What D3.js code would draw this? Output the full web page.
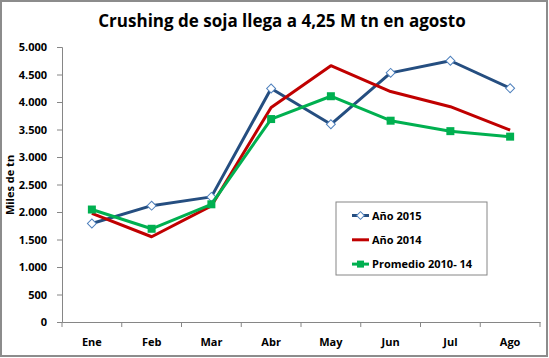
<!DOCTYPE html>
<html><head><meta charset="utf-8">
<script src="https://cdn.jsdelivr.net/npm/d3@7"></script>
<style>body{margin:0;background:#fff}svg{display:block}text{font-family:"Open Sans","Liberation Sans",sans-serif;font-weight:bold}</style>
</head><body><svg id="c" width="549" height="358"></svg>
<script>
const categories = ["Ene","Feb","Mar","Abr","May","Jun","Jul","Ago"];
const anio2015 = [1790, 2115, 2275, 4245, 3595, 4530, 4750, 4250];
const anio2014 = [1975, 1550, 2110, 3900, 4660, 4190, 3915, 3490];
const promedio = [2045, 1695, 2140, 3690, 4105, 3660, 3470, 3370];
const yTicks = [0,500,1000,1500,2000,2500,3000,3500,4000,4500,5000];
const series = [
  {name:"Año 2015", values:anio2015, color:"#254E80", marker:"diamond"},
  {name:"Año 2014", values:anio2014, color:"#C00000", marker:"none"},
  {name:"Promedio 2010- 14", values:promedio, color:"#00B050", marker:"square"}
];
const svg = d3.select("#c");
svg.append("rect").attr("x",1).attr("y",1).attr("width",546).attr("height",355).attr("fill","#fff").attr("stroke","#8c8c8c").attr("stroke-width",2);
const L=62,R=540,T=47,B=322;
const x = d3.scaleBand().domain(categories).range([L,R]);
const y = d3.scaleLinear().domain([0,5000]).range([B,T]);
const fmt = d=>d3.format(",")(d).replace(/,/g,".");
const ya = svg.append("g").attr("transform",`translate(${L},0)`).call(d3.axisLeft(y).tickValues(yTicks).tickFormat(fmt).tickSize(5).tickPadding(10));
const xa = svg.append("g").attr("transform",`translate(0,${B})`).call(d3.axisBottom(x).tickSize(0).tickPadding(16));
[ya,xa].forEach(g=>{g.select(".domain").attr("stroke","#868686");g.selectAll(".tick line").attr("stroke","#868686");g.selectAll("text").attr("font-size",11).attr("fill","#000").attr("font-family","'Open Sans',sans-serif").attr("font-weight","bold");});
svg.append("g").selectAll("line").data(d3.range(categories.length+1)).join("line")
  .attr("x1",i=>L+i*x.step()).attr("x2",i=>L+i*x.step()).attr("y1",B).attr("y2",B+5).attr("stroke","#868686");
svg.append("text").attr("x",282).attr("y",27).attr("text-anchor","middle").attr("font-size",17).text("Crushing de soja llega a 4,25 M tn en agosto");
svg.append("text").attr("transform","translate(14,185) rotate(-90)").attr("text-anchor","middle").attr("font-size",11).text("Miles de tn");
const line = d3.line().x((d,i)=>x(categories[i])+x.bandwidth()/2).y(d=>y(d));
series.forEach(s=>{
  svg.append("path").attr("d",line(s.values)).attr("fill","none").attr("stroke",s.color).attr("stroke-width",3).attr("stroke-linejoin","round");
  const g = svg.append("g");
  if(s.marker==="diamond"){
    g.selectAll("path").data(s.values).join("path").attr("d",d3.symbol(d3.symbolSquare,40))
      .attr("transform",(d,i)=>`translate(${x(categories[i])+x.bandwidth()/2},${y(d)}) rotate(45)`).attr("fill","#fff").attr("stroke","#4F81BD").attr("stroke-width",1);
  } else if(s.marker==="square"){
    g.selectAll("rect").data(s.values).join("rect").attr("x",(d,i)=>x(categories[i])+x.bandwidth()/2-4).attr("y",d=>y(d)-4).attr("width",8).attr("height",8).attr("fill",s.color);
  }
});
const lg = svg.append("g");
lg.append("rect").attr("x",336).attr("y",202).attr("width",151).attr("height",73).attr("fill","#fff").attr("stroke","#868686");
series.forEach((s,i)=>{
  const cy = 215.5+i*24.3;
  lg.append("line").attr("x1",352).attr("x2",369).attr("y1",cy).attr("y2",cy).attr("stroke",s.color).attr("stroke-width",3);
  if(s.marker==="diamond") lg.append("path").attr("d",d3.symbol(d3.symbolSquare,30)).attr("transform",`translate(360.5,${cy}) rotate(45)`).attr("fill","#fff").attr("stroke","#4F81BD");
  if(s.marker==="square") lg.append("rect").attr("x",357).attr("y",cy-3.5).attr("width",7).attr("height",7).attr("fill",s.color);
  lg.append("text").attr("x",372).attr("y",cy+4).attr("font-size",11).text(s.name);
});
</script></body></html>
